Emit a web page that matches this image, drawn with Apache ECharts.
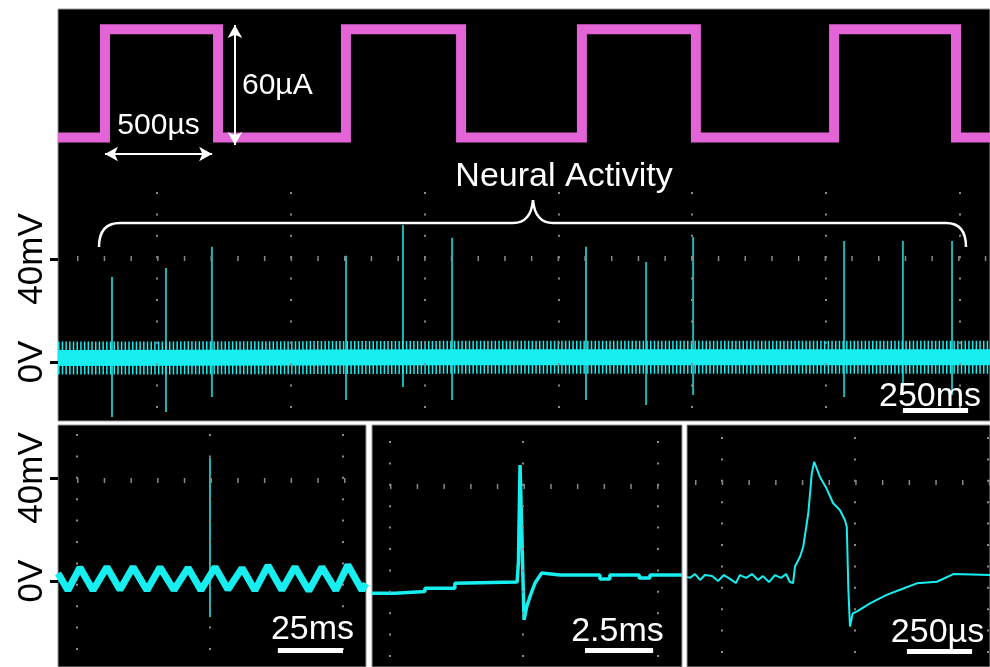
<!DOCTYPE html>
<html><head><meta charset="utf-8">
<script src="https://cdn.jsdelivr.net/npm/echarts@6/dist/echarts.min.js"></script>
<style>html,body{margin:0;padding:0;background:#fff;}#c{width:990px;height:667px;}</style>
</head><body><div id="c"></div>
<script>
// ---------- Stimulation pulse train (µA vs µs) ----------
const pulseRise = [206, 1263, 2298, 3404];
const pulseFall = [702, 1768, 2798, 3939];
const pulseLow = 0;
const pulseHigh = 61;
const pulseEnd = 4088;
const pulseArrowWidth = [206, 676, -9.3];   // t1, t2, level
const pulseArrowHeight = [776, -4.2, 63.4]; // t, low, high

// ---------- Neural activity, long window (mV vs ms) ----------
const neuralEnd = 3488;
const noiseTimes = [0, 500, 1000, 1500, 2000, 2500, 3000, 3488];
const noiseLevels = [1.5, 1.6, 1.7, 1.8, 1.8, 1.8, 1.8, 1.8];
const spikeTimes = [202, 404, 576, 1078, 1291, 1475, 1976, 2201, 2377, 2942, 3162, 3346];
const spikePeaks = [33.0, 36.5, 44.7, 41.2, 53.2, 48.2, 44.7, 38.8, 48.5, 47.0, 47.0, 47.0];
const spikeTroughs = [-21.4, -19.4, -13.6, -14.8, -9.7, -14.8, -14.8, -16.7, -12.8, -13.6, -12.8, -12.8];
const neuralGridTimes = [370.5, 872, 1373.5, 1875, 2373, 2874, 3376];
const neuralScaleBar = [3162, 3406, -18.8];

// ---------- Zoom 1 (mV vs ms) ----------
const p1End = 115.3;
const p1Times = [0, 3.7, 8.2, 13.1, 18.3, 23.2, 28.1, 33.3, 38.2, 43.4, 48.7, 53.5, 58.8, 63.6, 68.9, 73.7, 78.6, 83.8, 88.7, 93.9, 98.8, 104.0, 108.5, 113.8, 115.3];
const p1Values = [3.0, -3.6, 5.2, -3.6, 5.4, -3.4, 5.4, -3.6, 5.3, -3.5, 5.1, -3.6, 5.4, -3.3, 5.0, -3.6, 6.0, -3.5, 5.4, -3.8, 5.4, -3.6, 6.2, -3.6, -1.0];
const p1Spike = [56.9, 47.8, -14.0];
const p1GridTimes = [7.1, 56.9, 106.7];
const p1ScaleBar = [82.3, 106.7, -26.8];

// ---------- Zoom 2 (mV vs ms) ----------
const p2End = 11.6;
const p2Times = [0, 0.86, 0.86, 1.98, 1.98, 3.10, 3.10, 5.43, 5.48, 5.54, 5.69, 5.79, 5.91, 6.10, 6.35, 7.04, 8.53, 8.53, 8.90, 8.90, 10.0, 10.0, 10.4, 10.4, 11.6];
const p2Values = [-4.8, -4.8, -4.1, -4.1, -2.8, -2.8, -0.9, -0.4, 7.5, 45.0, -15.1, -10.0, -6.1, -0.8, 3.1, 2.3, 2.3, 0.8, 0.8, 2.3, 2.3, 1.2, 1.2, 2.3, 2.3];
const p2GridTimes = [0.67, 5.65, 10.70];
const p2ScaleBar = [7.97, 10.52, -26.8];

// ---------- Zoom 3 (mV vs µs) ----------
const p3End = 1134;
const p3Times = [0, 11, 30, 49, 67, 94, 116, 138, 161, 183, 198, 221, 243, 266, 284, 307, 329, 352, 371, 385, 397, 404, 423, 435, 454, 467, 476, 497, 522, 547, 572, 591, 598, 604, 610, 620, 635, 685, 747, 810, 860, 935, 997, 1134];
const p3Values = [1.6, 1.2, 2.7, 0.4, 2.3, 1.9, 0, 2.3, 0.8, -0.8, 2.3, 1.2, 2.7, 0.4, 1.9, -0.4, 2.3, 1.2, 2.7, -0.4, -0.8, 5.6, 9.4, 13.3, 26.3, 41.8, 46.3, 40.5, 36.0, 30.2, 27.6, 23.7, 21.1, -3.5, -17.7, -12.6, -11.9, -8.7, -5.4, -2.9, -0.9, -0.3, 2.7, 2.3];
const p3GridTimes = [131, 629, 1126];
const p3ScaleBar = [823, 1067, -27.2];

// ---------- Tick labels ----------
const voltTicks = [0, 40];
const voltLabels = {0: '0V', 40: '40mV'};
const tickRowLevels = [40.4, 39.2, 36.9, 38.4];

// ================= build =================
const CYAN = '#17eef0';
const TEAL = '#1fb4b6';
const GRAY = '#8a8a8a';
const FONT = 'Liberation Sans, Arial, sans-serif';
const zip = (a, b) => a.map((v, i) => [v, b[i]]);

const pulseData = [[0, pulseLow]];
pulseRise.forEach((r, i) => {
  pulseData.push([r, pulseLow], [r, pulseHigh], [pulseFall[i], pulseHigh], [pulseFall[i], pulseLow]);
});
pulseData.push([pulseEnd, pulseLow]);

function graticule(gi, times, row, vOff, hOff) {
  return {
    type: 'line', xAxisIndex: gi, yAxisIndex: gi, data: [], z: 1, silent: true,
    markLine: {
      silent: true, symbol: 'none', label: {show: false}, animation: false,
      data: times.map(t => ({xAxis: t, lineStyle: {color: GRAY, width: 2, type: [2, 19.4], dashOffset: vOff}}))
        .concat([{yAxis: row, lineStyle: {color: GRAY, width: 5, type: [1.5, 25.2], dashOffset: hOff}}])
    }
  };
}
function scaleBar(gi, bar) {
  return {
    type: 'line', xAxisIndex: gi, yAxisIndex: gi, data: [], z: 6, silent: true,
    markLine: {
      silent: true, symbol: 'none', label: {show: false}, animation: false,
      data: [[{coord: [bar[0], bar[2]], lineStyle: {color: '#fff', width: 5, type: 'solid'}}, {coord: [bar[1], bar[2]]}]]
    }
  };
}
function spikeSeries(gi, times, peaks, troughs, z) {
  const d = [];
  times.forEach((t, i) => { d.push([t, peaks[i]], [t, troughs[i]], [t, null]); });
  return {type: 'line', xAxisIndex: gi, yAxisIndex: gi, data: d, z: z, silent: true, showSymbol: false,
    connectNulls: false, lineStyle: {color: TEAL, width: 2}};
}
const voltAxis = (gi, min, max) => ({
  gridIndex: gi, type: 'value', min, max, position: 'left',
  axisLine: {show: false}, splitLine: {show: false},
  axisTick: {show: true, length: 8, lineStyle: {color: '#000', width: 3}, customValues: voltTicks},
  axisLabel: {show: true, customValues: voltTicks, rotate: 90, margin: 8, color: '#000',
    fontSize: 35, fontFamily: FONT, formatter: v => voltLabels[v]}
});
const hiddenX = (gi, max) => ({gridIndex: gi, type: 'value', min: 0, max, show: false});
const hiddenY = (gi, min, max) => ({gridIndex: gi, type: 'value', min, max, show: false});

const txt = (text, x, y, size, align) => ({
  type: 'text', x, y, z: 100, silent: true,
  style: {text, fill: '#fff', fontSize: size, fontFamily: FONT,
    align: align || 'center', verticalAlign: 'middle'}
});
const braceStyle = {stroke: '#fff', lineWidth: 2.5, fill: null};
const curve = (x1, y1, cx, cy, x2, y2) => ({type: 'bezierCurve', z: 100, silent: true,
  shape: {x1, y1, cpx1: cx, cpy1: cy, x2, y2}, style: braceStyle});
const seg = (x1, y1, x2, y2) => ({type: 'line', z: 100, silent: true, shape: {x1, y1, x2, y2}, style: braceStyle});
const panel = (x, y, w, h) => ({type: 'rect', z: 0, silent: true, shape: {x, y, width: w, height: h},
  style: {fill: '#000', stroke: '#999', lineWidth: 1}});

const option = {
  animation: false,
  backgroundColor: '#fff',
  grid: [
    {left: 58, top: 13.25, width: 932, height: 159.75},
    {left: 58, top: 192, width: 932, height: 229.2},
    {left: 58, top: 425, width: 308, height: 242},
    {left: 372, top: 425, width: 310, height: 242},
    {left: 687, top: 425, width: 303, height: 242}
  ],
  xAxis: [hiddenX(0, pulseEnd), hiddenX(1, neuralEnd), hiddenX(2, p1End), hiddenX(3, p2End), hiddenX(4, p3End)],
  yAxis: [hiddenY(0, -20, 70), voltAxis(1, -23, 66), voltAxis(2, -33.4, 60.58), hiddenY(3, -33.4, 60.58), hiddenY(4, -33.4, 60.58)],
  graphic: [
    panel(58, 9, 932, 412), panel(58, 425, 308, 242), panel(372, 425, 310, 242), panel(687, 425, 303, 242),
    curve(99, 247, 99, 223, 120, 223), seg(120, 223, 513, 223), curve(513, 223, 531, 223, 533, 200),
    curve(533, 200, 535, 223, 553, 223), seg(553, 223, 946, 223), curve(946, 223, 966, 223, 966, 247),
    txt('60µA', 242, 86, 30, 'left'),
    txt('500µs', 158.5, 125.5, 30),
    txt('Neural Activity', 564, 177, 34),
    txt('250ms', 930, 397, 34),
    txt('25ms', 312.5, 630, 34),
    txt('2.5ms', 617.5, 631.5, 34),
    txt('250µs', 937.5, 632.5, 34)
  ],
  series: [
    {type: 'line', xAxisIndex: 0, yAxisIndex: 0, data: pulseData, z: 3, silent: true, showSymbol: false,
      lineStyle: {color: '#e264d6', width: 10, join: 'miter'}},
    {type: 'line', xAxisIndex: 0, yAxisIndex: 0, data: [], z: 6, silent: true,
      markLine: {silent: true, symbol: ['arrow', 'arrow'], symbolSize: [11, 13], label: {show: false}, animation: false,
        lineStyle: {color: '#fff', width: 2, type: 'solid'},
        data: [
          [{coord: [pulseArrowWidth[0], pulseArrowWidth[2]]}, {coord: [pulseArrowWidth[1], pulseArrowWidth[2]]}],
          [{coord: [pulseArrowHeight[0], pulseArrowHeight[1]]}, {coord: [pulseArrowHeight[0], pulseArrowHeight[2]]}]
        ]}},
    graticule(1, neuralGridTimes, tickRowLevels[0], 8.2, 7.7),
    spikeSeries(1, spikeTimes, spikePeaks, spikeTroughs, 2),
    {type: 'line', xAxisIndex: 1, yAxisIndex: 1, data: zip(noiseTimes, noiseLevels), z: 3, silent: true, showSymbol: false,
      lineStyle: {color: CYAN, width: 33, type: [1.5, 2.2], cap: 'butt'}},
    {type: 'line', xAxisIndex: 1, yAxisIndex: 1, data: zip(noiseTimes, noiseLevels), z: 3, silent: true, showSymbol: false,
      lineStyle: {color: CYAN, width: 16}},
    scaleBar(1, neuralScaleBar),
    graticule(2, p1GridTimes, tickRowLevels[1], 4.4, 7.7),
    spikeSeries(2, [p1Spike[0]], [p1Spike[1]], [p1Spike[2]], 2),
    {type: 'line', xAxisIndex: 2, yAxisIndex: 2, data: zip(p1Times, p1Values), z: 3, silent: true, showSymbol: false,
      lineStyle: {color: CYAN, width: 7}},
    scaleBar(2, p1ScaleBar),
    graticule(3, p2GridTimes, tickRowLevels[2], 11.4, 8.7),
    {type: 'line', xAxisIndex: 3, yAxisIndex: 3, data: zip(p2Times, p2Values), z: 3, silent: true, showSymbol: false,
      lineStyle: {color: CYAN, width: 3.5}},
    scaleBar(3, p2ScaleBar),
    graticule(4, p3GridTimes, tickRowLevels[3], 7.4, 18.7),
    {type: 'line', xAxisIndex: 4, yAxisIndex: 4, data: zip(p3Times, p3Values), z: 3, silent: true, showSymbol: false,
      lineStyle: {color: CYAN, width: 2}},
    scaleBar(4, p3ScaleBar)
  ]
};
const chart = echarts.init(document.getElementById('c'), null, {renderer: 'canvas'});
chart.setOption(option);
</script>
</body></html>
